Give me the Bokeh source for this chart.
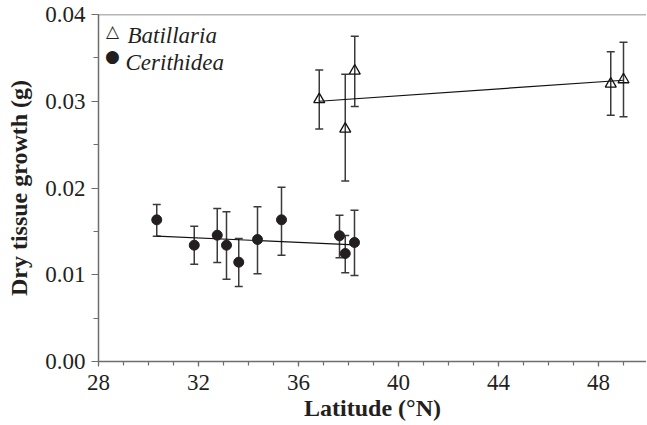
from bokeh.plotting import figure
from bokeh.models import (ColumnDataSource, Whisker, TeeHead, Range1d, SingleIntervalTicker,
                          PrintfTickFormatter, Span, Label)
from bokeh.embed import file_html
from bokeh.resources import INLINE

# Batillaria (open triangles)
bat_lat = [36.83, 37.87, 38.25, 48.49, 49.0]
bat_val = [0.0302, 0.0268, 0.0335, 0.0320, 0.0325]
bat_hi = [0.0336, 0.0331, 0.0375, 0.0357, 0.0368]
bat_lo = [0.0268, 0.0208, 0.0294, 0.0284, 0.0282]
bat_fit_x = [36.83, 49.0]
bat_fit_y = [0.0300, 0.03242]

# Cerithidea (filled circles)
cer_lat = [30.33, 31.83, 32.75, 33.12, 33.61, 34.36, 35.32, 37.64, 37.87, 38.24]
cer_val = [0.01633, 0.01341, 0.01456, 0.01341, 0.01145, 0.01406, 0.01633, 0.01449, 0.01245, 0.01372]
cer_hi = [0.0181, 0.0156, 0.01764, 0.01725, 0.01418, 0.01783, 0.0201, 0.01687, 0.01452, 0.01744]
cer_lo = [0.01445, 0.01122, 0.01141, 0.00949, 0.00865, 0.01011, 0.01225, 0.01195, 0.01022, 0.00991]
cer_fit_x = [30.33, 38.24]
cer_fit_y = [0.01445, 0.01345]

x_label = "Latitude (°N)"
y_label = "Dry tissue growth (g)"

FONT = "Liberation Serif"
AX = "#6e6e6e"
INK = "#231f20"

p = figure(width=646, height=424, output_backend="svg", toolbar_location=None,
           x_range=Range1d(28, 49.92), y_range=Range1d(0, 0.04),
           min_border_left=98, min_border_right=0, min_border_top=14, min_border_bottom=63)
p.outline_line_color = None
p.grid.visible = False
p.background_fill_color = "white"
p.border_fill_color = "white"

p.xaxis.ticker = SingleIntervalTicker(interval=4, num_minor_ticks=4)
p.yaxis.ticker = SingleIntervalTicker(interval=0.01, num_minor_ticks=2)
p.yaxis.formatter = PrintfTickFormatter(format="%.2f")

for ax in (p.xaxis, p.yaxis):
    ax.axis_line_color = AX
    ax.axis_line_width = 1.5
    ax.major_tick_line_color = AX
    ax.minor_tick_line_color = AX
    ax.major_tick_line_width = 1.2
    ax.minor_tick_line_width = 1.2
    ax.major_tick_in = 0
    ax.minor_tick_in = 0
    ax.major_label_text_font = FONT
    ax.major_label_text_font_size = "23px"
    ax.major_label_text_color = INK
    ax.axis_label_text_font = FONT
    ax.axis_label_text_font_size = "24px"
    ax.axis_label_text_font_style = "bold"
    ax.axis_label_text_color = INK

p.xaxis.major_tick_out = 5
p.xaxis.minor_tick_out = 4
p.xaxis.major_label_standoff = 8
p.xaxis.axis_label_standoff = 2
p.yaxis.major_tick_out = 7
p.yaxis.minor_tick_out = 5
p.yaxis.major_label_standoff = 6
p.yaxis.axis_label_standoff = 10
p.xaxis.axis_label = x_label
p.yaxis.axis_label = y_label

p.add_layout(Span(location=0.04, dimension="width", line_color=AX, line_width=1.5))

# fit lines
p.line(bat_fit_x, bat_fit_y, line_color="#111111", line_width=1.2)
p.line(cer_fit_x, cer_fit_y, line_color="#111111", line_width=1.2)

bat_src = ColumnDataSource(dict(x=bat_lat, y=bat_val, hi=bat_hi, lo=bat_lo))
cer_src = ColumnDataSource(dict(x=cer_lat, y=cer_val, hi=cer_hi, lo=cer_lo))

for src in (bat_src, cer_src):
    w = Whisker(source=src, base="x", upper="hi", lower="lo", dimension="height",
                line_color="#3a3a3a", line_width=1.5,
                upper_head=TeeHead(size=8, line_color="#3a3a3a", line_width=1.5),
                lower_head=TeeHead(size=8, line_color="#3a3a3a", line_width=1.5))
    p.add_layout(w)

p.scatter("x", "y", source=cer_src, marker="circle", size=10,
          fill_color=INK, line_color=INK)
p.scatter("x", "y", source=bat_src, marker="triangle", size=11,
          fill_alpha=0, line_color="#111111", line_width=1.3)

# legend as text
p.add_layout(Label(x=14, y=331, x_units="screen", y_units="screen", text="△",
                   text_font="DejaVu Sans", text_font_size="17px",
                   text_align="center", text_baseline="middle", text_color=INK))
p.add_layout(Label(x=14, y=306, x_units="screen", y_units="screen", text="●",
                   text_font="DejaVu Sans", text_font_size="17px",
                   text_align="center", text_baseline="middle", text_color=INK))
p.add_layout(Label(x=29, y=326, x_units="screen", y_units="screen", text="Batillaria",
                   text_font=FONT, text_font_size="23px", text_font_style="italic",
                   text_baseline="alphabetic", text_color=INK))
p.add_layout(Label(x=27, y=299, x_units="screen", y_units="screen", text="Cerithidea",
                   text_font=FONT, text_font_size="23px", text_font_style="italic",
                   text_baseline="alphabetic", text_color=INK))

open("out.html", "w").write(file_html(p, INLINE))
